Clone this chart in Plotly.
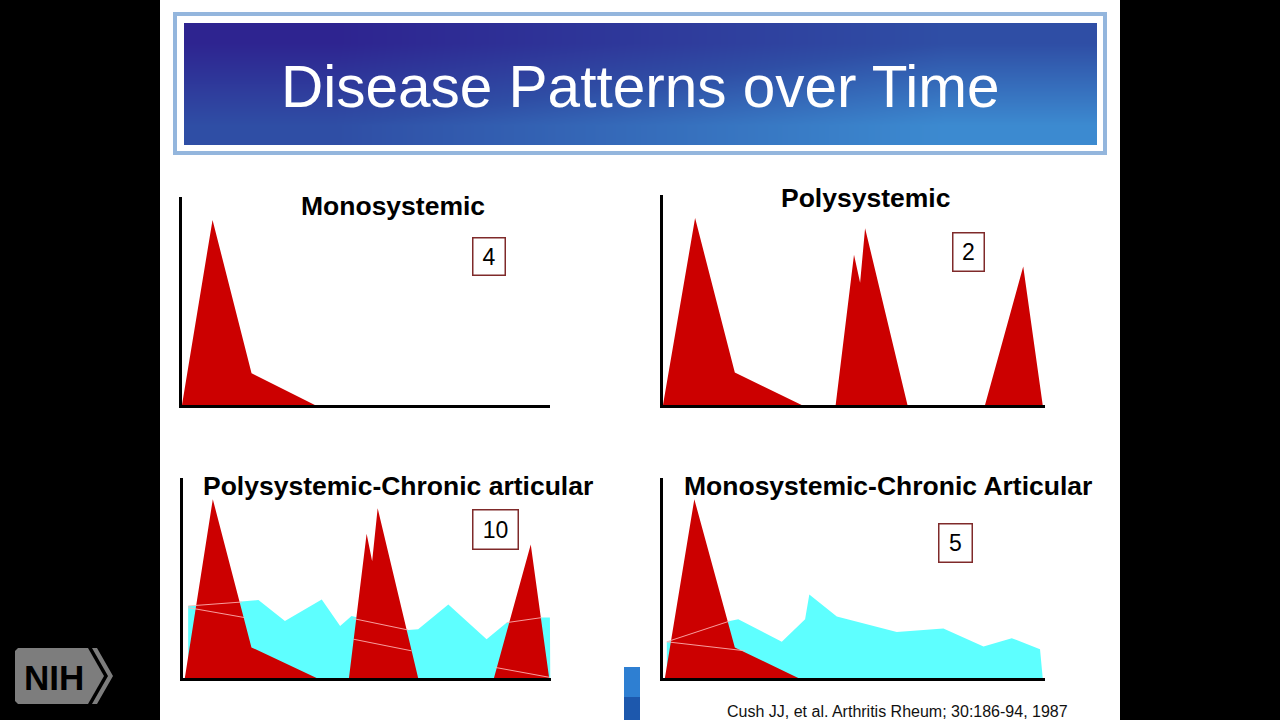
import plotly.graph_objects as go

# ---------------- data (time units 0-100, activity units 0-100) ----------------
# Panel 1: Monosystemic
mono_t = [0, 8.3, 18.9, 36.1]
mono_sys = [0, 89.0, 15.3, 0]

# Panel 2: Polysystemic
poly_t = [0, 8.4, 18.8, 36.3, 45.2, 50.0, 51.6, 52.9, 64.0, 84.3, 94.3, 99.4]
poly_sys = [0, 89.0, 15.5, 0, 0, 71.6, 58.2, 84.2, 0, 0, 66.0, 0]

# Panel 3: Polysystemic-Chronic articular
pca_sys_t = [0.5, 8.1, 18.6, 36.3, 45.1, 49.9, 51.4, 52.9, 63.9, 84.5, 94.5, 99.5]
pca_sys = [0, 89.4, 15.3, 0, 0, 72.1, 58.4, 84.9, 0, 0, 66.7, 0]
pca_art_t = [1.4, 16.0, 20.5, 27.7, 37.7, 42.7, 45.8, 61.2, 63.9, 72.1, 82.5, 88.0, 97.5, 99.7, 99.8]
pca_art = [36.0, 38.5, 39.0, 28.5, 39.3, 26.0, 31.0, 24.0, 24.4, 36.8, 19.4, 27.7, 30.2, 30.3, 0]

# Panel 4: Monosystemic-Chronic Articular
mca_sys_t = [0.5, 8.2, 18.8, 35.4]
mca_sys = [0, 89.4, 15.3, 0]
mca_art_t = [1.0, 17.5, 19.7, 31.1, 37.2, 38.3, 45.5, 61.2, 73.4, 83.9, 91.3, 98.7, 99.4]
mca_art = [18.1, 28.5, 29.4, 18.1, 29.4, 41.8, 30.7, 23.0, 24.7, 15.8, 19.9, 14.4, 0]

# faint edge lines visible in the original drawing (t pairs, y pairs)
pca_edges = [
    ([1.4, 16.0], [36.0, 38.0]),
    ([1.4, 16.8], [35.2, 30.2]),
    ([46.3, 61.2], [29.7, 24.0]),
    ([46.3, 62.1], [19.4, 13.6]),
    ([88.0, 97.5], [27.7, 30.2]),
    ([84.8, 99.7], [5.3, 0.3]),
]
mca_edges = [
    ([1.0, 17.5], [18.1, 28.5]),
    ([1.0, 21.5], [18.1, 13.6]),
]

panel_titles = ["Monosystemic", "Polysystemic",
                "Polysystemic-Chronic articular", "Monosystemic-Chronic Articular"]
panel_counts = ["4", "2", "10", "5"]
slide_title = "Disease Patterns over Time"
citation = "Cush JJ, et al. Arthritis Rheum; 30:186-94, 1987"

# ---------------- layout helpers ----------------
W, H = 1280, 720
def fx(px): return px / W
def fy(py): return 1 - py / H

RED = "#cc0000"
CYAN = "#5effff"
FONT = "Liberation Sans"

panels = [
    dict(x0=182, x1=550, top=197, base=405),
    dict(x0=663, x1=1045, top=195, base=405),
    dict(x0=183, x1=551, top=478, base=678),
    dict(x0=663, x1=1045, top=478, base=678),
]

fig = go.Figure()

def add_area(t, y, color, k):
    sfx = "" if k == 1 else str(k)
    fig.add_trace(go.Scatter(x=t, y=y, mode="lines", fill="tozeroy",
                             fillcolor=color, line=dict(width=0, color=color),
                             xaxis="x" + sfx, yaxis="y" + sfx, hoverinfo="skip",
                             showlegend=False))

def add_edges(edges, k):
    sfx = "" if k == 1 else str(k)
    for t, y in edges:
        fig.add_trace(go.Scatter(x=t, y=y, mode="lines",
                                 line=dict(width=1, color="rgba(255,185,185,0.85)"),
                                 xaxis="x" + sfx, yaxis="y" + sfx, hoverinfo="skip",
                                 showlegend=False))

add_area(mono_t, mono_sys, RED, 1)
add_area(poly_t, poly_sys, RED, 2)
add_area(pca_art_t, pca_art, CYAN, 3)
add_area(pca_sys_t, pca_sys, RED, 3)
add_edges(pca_edges, 3)
add_area(mca_art_t, mca_art, CYAN, 4)
add_area(mca_sys_t, mca_sys, RED, 4)
add_edges(mca_edges, 4)

# banner gradient (decorative)
fig.add_trace(go.Heatmap(z=[[2, 3, 4], [1, 2, 3], [0, 1, 2]], x=[0, 1, 2], y=[0, 1, 2],
                         zsmooth="best", showscale=False, hoverinfo="skip",
                         colorscale=[[0, "#2e2490"], [0.5, "#2f4ea5"], [1, "#3c8ad0"]],
                         xaxis="x5", yaxis="y5"))

layout = dict(width=W, height=H, autosize=False,
              margin=dict(l=0, r=0, t=0, b=0),
              paper_bgcolor="black", plot_bgcolor="rgba(0,0,0,0)",
              showlegend=False, hovermode=False)

for i, p in enumerate(panels, start=1):
    sfx = "" if i == 1 else str(i)
    layout["xaxis" + sfx] = dict(domain=[fx(p["x0"]), fx(p["x1"])], range=[0, 100],
                                 anchor="y" + sfx, showline=True, linecolor="black",
                                 linewidth=3, showgrid=False, zeroline=False,
                                 showticklabels=False, ticks="", fixedrange=True)
    layout["yaxis" + sfx] = dict(domain=[fy(p["base"]), fy(p["top"])], range=[0, 100],
                                 anchor="x" + sfx, showline=True, linecolor="black",
                                 linewidth=3, showgrid=False, zeroline=False,
                                 showticklabels=False, ticks="", fixedrange=True)

layout["xaxis5"] = dict(domain=[fx(184), fx(1097)], range=[-0.5, 2.5], visible=False,
                        anchor="y5", fixedrange=True)
layout["yaxis5"] = dict(domain=[fy(145), fy(23)], range=[-0.5, 2.5], visible=False,
                        anchor="x5", fixedrange=True)

def rect(x0, y0, x1, y1, fill, line_color=None, lw=0, layer="below"):
    return dict(type="rect", xref="paper", yref="paper",
                x0=fx(x0), x1=fx(x1), y0=fy(y1), y1=fy(y0),
                fillcolor=fill, line=dict(width=lw, color=line_color or fill), layer=layer)

def poly(points, fill):
    d = "M " + " L ".join(f"{fx(a):.5f},{fy(b):.5f}" for a, b in points) + " Z"
    return dict(type="path", xref="paper", yref="paper", path=d,
                fillcolor=fill, line=dict(width=0), layer="above")

shapes = [
    rect(160, 0, 1120, 720, "white"),
    rect(175, 14, 1105, 153, "white", "#94b6dd", 4),
    rect(624, 667, 640, 697, "#2e7fd2", layer="above"),
    rect(624, 697, 640, 720, "#1d58ad", layer="above"),
    poly([(18, 648), (88, 648), (104, 676), (88, 704), (18, 704), (15, 701), (15, 651)], "#7d7d7d"),
    poly([(92, 648), (97, 648), (113, 676), (97, 704), (92, 704), (108, 676)], "#7d7d7d"),
]
layout["shapes"] = shapes

annotations = [
    dict(text=slide_title, x=fx(640), y=fy(86), xref="paper", yref="paper",
         showarrow=False, xanchor="center", yanchor="middle",
         font=dict(family=FONT, size=58.5, color="white")),
    dict(text=citation, x=fx(897), y=fy(711), xref="paper", yref="paper",
         showarrow=False, xanchor="center", yanchor="middle",
         font=dict(family=FONT, size=16, color="#111111")),
    dict(text="<b>NIH</b>", x=fx(54), y=fy(677), xref="paper", yref="paper",
         showarrow=False, xanchor="center", yanchor="middle",
         font=dict(family=FONT, size=35, color="black")),
]
title_pos = [(393, 206), (865, 198), (398, 486), (888, 486)]
box_pos = [(488.5, 256, 31, 36), (968, 251.5, 30, 37), (495, 529, 44, 38), (955, 542.5, 32, 37)]
for txt, (x, y) in zip(panel_titles, title_pos):
    annotations.append(dict(text="<b>" + txt + "</b>", x=fx(x), y=fy(y), xref="paper",
                            yref="paper", showarrow=False, xanchor="center",
                            yanchor="middle",
                            font=dict(family=FONT, size=26.5, color="black")))
for txt, (x, y, w, h) in zip(panel_counts, box_pos):
    annotations.append(dict(text=txt, x=fx(x), y=fy(y), xref="paper", yref="paper",
                            showarrow=False, xanchor="center", yanchor="middle",
                            width=w, height=h, bgcolor="white", bordercolor="#7f2a2a",
                            borderwidth=1.5, borderpad=0,
                            font=dict(family=FONT, size=23, color="black")))
layout["annotations"] = annotations

fig.update_layout(**layout)
fig.write_html("out.html", config={"displayModeBar": False, "staticPlot": True})
